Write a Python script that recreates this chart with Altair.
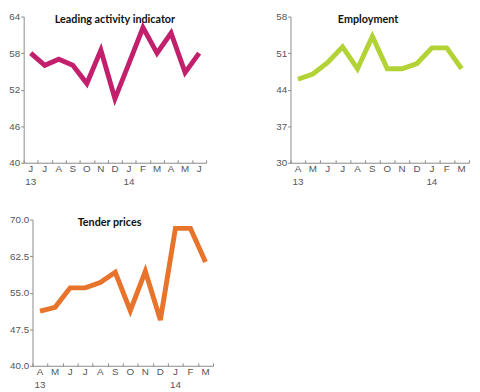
import json
import altair as alt
import pandas as pd

# ---- data ----
lai_months = ["J", "J", "A", "S", "O", "N", "D", "J", "F", "M", "A", "M", "J"]
lai_years = ["13", "", "", "", "", "", "", "14", "", "", "", "", ""]
lai_values = [58, 56, 57, 56, 53, 58.5, 50.5, 56.3, 62.2, 58, 61.3, 54.8, 58]

emp_months = ["A", "M", "J", "J", "A", "S", "O", "N", "D", "J", "F", "M"]
emp_years = ["13", "", "", "", "", "", "", "", "", "14", "", ""]
emp_values = [46, 47, 49.2, 52.2, 48, 54.2, 48, 48, 49, 52, 52, 48]

tp_months = ["A", "M", "J", "J", "A", "S", "O", "N", "D", "J", "F", "M"]
tp_years = ["13", "", "", "", "", "", "", "", "", "14", "", ""]
tp_values = [51.2, 52, 56, 56, 57.1, 59.2, 51.3, 59.4, 49.4, 68.2, 68.2, 61.3]

AXIS_GRAY = "#8a8a8a"
LABEL_GRAY = "#555555"
PLOT_H = 149


def panel(months, years, values, domain, ticks, fmt, color, title, width, title_dx,
          inset=0):
    df = pd.DataFrame({"i": list(range(len(values))), "v": values})
    lbls = [[m, y] if y else [m] for m, y in zip(months, years)]
    label_expr = json.dumps(lbls) + "[datum.value]"
    if inset:
        xscale = alt.Scale(type="band", paddingInner=0, paddingOuter=0,
                           range=[inset, width + inset])
    else:
        xscale = alt.Scale(type="band", paddingInner=0, paddingOuter=0)
    yaxis_kw = dict(title=None, values=ticks, format=fmt, grid=False,
                    tickSize=3, labelPadding=1)
    if inset:
        yaxis_kw["offset"] = -inset
    yscale = alt.Scale(domain=domain, nice=False, zero=False)
    y_enc = alt.Y("v:Q", scale=yscale, axis=alt.Axis(**yaxis_kw))

    line = (
        alt.Chart(df)
        .mark_line(color=color, strokeWidth=5, strokeJoin="miter")
        .encode(
            x=alt.X(
                "i:O",
                bandPosition=0.5,
                scale=xscale,
                axis=alt.Axis(
                    title=None,
                    ticks=False,
                    tickSize=0,
                    labelExpr=label_expr,
                    labelAngle=0,
                    labelLineHeight=13,
                    labelPadding=1,
                ),
            ),
            y=y_enc,
        )
    )
    # inward-pointing ticks at the band edges, drawn by a second x axis
    tick_layer = (
        alt.Chart(df)
        .mark_line(opacity=0)
        .encode(
            x=alt.X(
                "i:O",
                bandPosition=0.5,
                scale=xscale,
                axis=alt.Axis(
                    orient="top",
                    offset=-PLOT_H,
                    title=None,
                    labels=False,
                    domain=False,
                    tickBand="extent",
                    tickSize=3,
                ),
            ),
            y=y_enc,
        )
    )
    return (
        alt.layer(line, tick_layer)
        .resolve_axis(x="independent")
        .properties(
            width=width + inset,
            height=PLOT_H,
            title=alt.TitleParams(
                title, offset=-14, fontSize=11, fontWeight="bold", font="Lato",
                color="#111111", dx=title_dx,
            ),
        )
    )


p1 = panel(lai_months, lai_years, lai_values, [40, 64], [40, 46, 52, 58, 64], "d",
           "#c2206c", "Leading activity indicator", 186, 0)
p2 = panel(emp_months, emp_years, emp_values, [30, 58], [30, 37, 44, 51, 58], "d",
           "#b3d236", "Employment", 182, -12)
p3 = panel(tp_months, tp_years, tp_values, [40, 70], [40, 47.5, 55, 62.5, 70], ".1f",
           "#e8732a", "Tender prices", 184, -9, inset=9)

chart = (
    alt.vconcat(alt.hconcat(p1, p2, spacing=67), p3, spacing=29)
    .properties(padding={"left": 0, "top": 0, "right": 0, "bottom": 0})
    .configure_view(stroke=None)
    .configure_axis(
        domainColor=AXIS_GRAY,
        tickColor=AXIS_GRAY,
        labelColor=LABEL_GRAY,
        labelFont="Liberation Sans",
        labelFontSize=10,
    )
)

chart.save("out.html", embed_options={"renderer": "svg", "actions": False})
